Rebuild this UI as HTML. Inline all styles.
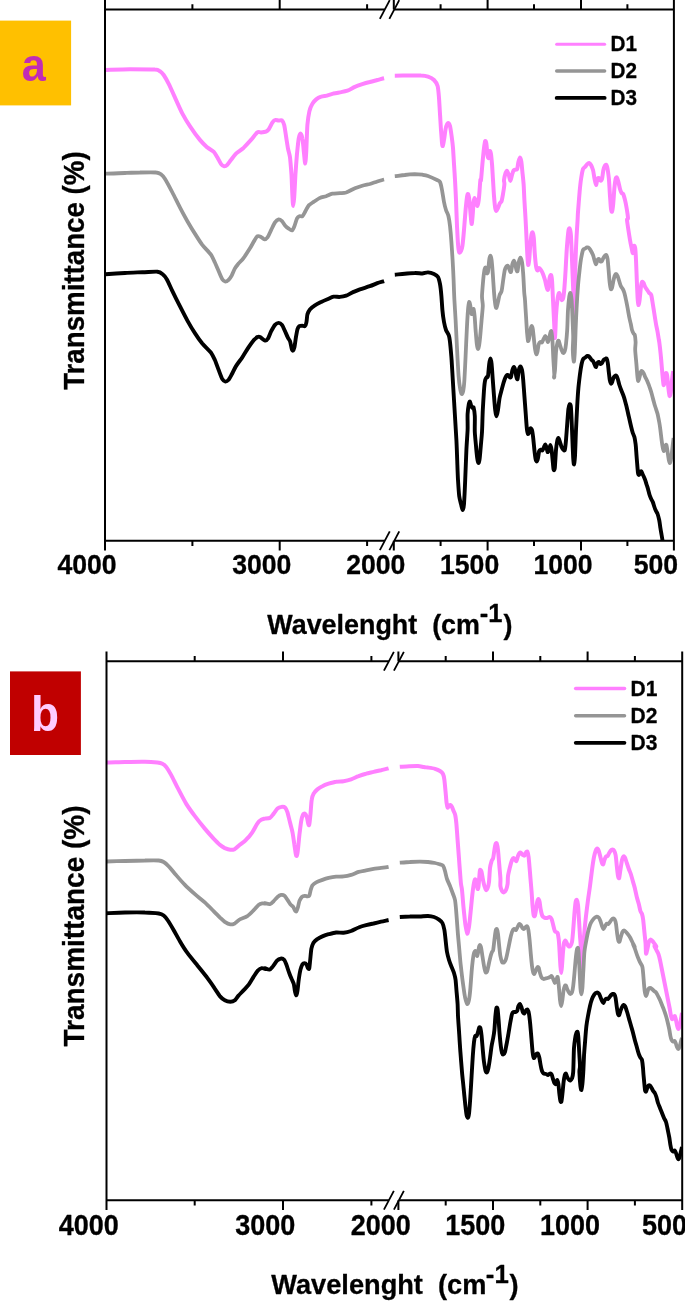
<!DOCTYPE html>
<html><head><meta charset="utf-8"><title>FTIR spectra</title>
<style>html,body{margin:0;padding:0;background:#fff}svg{display:block}</style></head>
<body>
<svg width="685" height="1301" viewBox="0 0 685 1301">
<rect width="685" height="1301" fill="#fff"/>
<clipPath id="ca"><rect x="105.0" y="9.5" width="568.9" height="531.2"/></clipPath>
<g clip-path="url(#ca)" fill="none" stroke-linejoin="round" stroke-linecap="butt">
<path d="M105.5,70.0 C108.8,69.9 123.4,69.3 130.0,69.2 C136.5,69.2 150.9,69.2 154.9,69.5 C158.9,69.7 158.7,70.5 159.9,71.2 C161.1,72.0 162.5,73.3 163.7,75.0 C164.8,76.6 167.1,80.7 168.6,83.7 C170.1,86.7 173.1,93.4 174.9,97.4 C176.7,101.4 180.4,109.8 182.4,113.7 C184.4,117.5 187.5,122.6 189.9,126.1 C192.2,129.6 197.5,137.0 199.9,139.9 C202.2,142.7 205.5,145.8 207.3,147.4 C209.2,148.9 212.2,150.3 213.6,151.6 C214.9,152.9 216.3,155.7 217.3,157.3 C218.3,159.0 220.2,162.9 221.1,164.1 C222.0,165.3 223.2,166.2 224.1,166.3 C224.9,166.4 226.4,165.7 227.3,164.8 C228.2,164.0 229.9,161.3 231.1,159.8 C232.2,158.3 234.4,155.2 236.0,153.6 C237.7,152.0 241.5,149.7 243.5,147.9 C245.5,146.0 249.2,141.9 251.0,139.9 C252.9,137.8 255.9,133.4 257.3,132.4 C258.6,131.4 259.8,132.5 261.0,132.4 C262.2,132.3 265.0,132.0 266.0,131.6 C267.0,131.2 267.9,130.6 268.7,129.4 C269.6,128.1 271.6,123.7 272.5,122.4 C273.4,121.1 274.6,120.1 275.5,119.9 C276.3,119.7 277.9,120.6 278.7,120.6 C279.6,120.7 281.2,119.8 282.0,120.4 C282.7,121.0 283.6,122.6 284.2,124.9 C284.8,127.2 285.7,134.2 286.2,137.4 C286.7,140.5 287.5,145.9 288.0,148.6 C288.5,151.3 289.5,153.8 290.0,157.3 C290.4,160.8 291.1,169.5 291.5,174.8 C291.8,180.1 292.2,193.1 292.5,197.3 C292.7,201.4 293.0,206.0 293.2,206.0 C293.4,206.0 293.9,201.4 294.2,197.3 C294.5,193.1 295.1,180.5 295.4,174.8 C295.8,169.2 296.5,159.7 296.9,154.8 C297.4,150.0 298.2,141.4 298.7,138.6 C299.2,135.8 299.9,133.6 300.4,133.6 C300.9,133.6 302.0,136.1 302.4,138.6 C302.9,141.1 303.6,149.0 303.9,152.3 C304.3,155.7 304.9,163.6 305.2,163.6 C305.5,163.6 305.9,157.5 306.2,152.3 C306.5,147.2 307.0,130.4 307.4,124.9 C307.9,119.4 308.8,114.0 309.4,111.2 C310.1,108.3 311.5,105.2 312.4,103.7 C313.3,102.1 315.0,100.4 316.2,99.4 C317.3,98.5 319.8,97.2 321.2,96.7 C322.5,96.2 324.7,96.0 326.2,95.7 C327.6,95.3 330.6,94.4 332.4,93.9 C334.2,93.5 337.9,92.9 339.9,92.4 C341.9,92.0 345.4,91.4 347.4,90.7 C349.4,90.0 352.9,87.8 354.9,86.9 C356.9,86.1 360.3,84.9 362.3,84.2 C364.3,83.5 367.8,82.5 369.8,82.0 C371.8,81.4 375.4,80.5 377.3,80.0 C379.2,79.5 383.2,78.4 384.1,78.2" stroke="#ff80ff" stroke-width="4.0"/>
<path d="M394.8,75.7 C396.8,75.7 406.3,75.5 409.8,75.5 C413.3,75.4 418.6,75.3 421.0,75.5 C423.4,75.6 426.3,76.0 428.0,76.6 C429.7,77.2 432.7,78.7 434.0,80.0 C435.3,81.3 436.9,83.6 437.6,86.0 C438.3,88.4 438.7,94.3 439.0,98.0 C439.3,101.7 439.7,109.7 440.0,114.0 C440.3,118.3 440.7,126.1 441.0,130.0 C441.3,133.9 441.8,140.9 442.0,143.0 C442.2,145.1 442.5,146.4 442.8,146.0 C443.1,145.6 443.6,142.3 444.0,140.0 C444.4,137.7 445.2,131.1 445.6,129.0 C446.0,126.9 446.6,125.2 447.0,124.4 C447.4,123.6 448.0,122.8 448.4,123.0 C448.8,123.2 449.6,124.3 450.0,126.0 C450.4,127.7 451.2,133.1 451.6,136.0 C452.0,138.9 452.7,144.3 453.0,148.0 C453.3,151.7 453.7,159.7 454.0,164.0 C454.3,168.3 454.7,175.2 455.0,180.0 C455.3,184.8 455.7,193.9 456.0,200.0 C456.3,206.1 456.7,220.1 457.0,226.0 C457.3,231.9 457.7,240.5 458.0,244.0 C458.3,247.5 458.8,251.5 459.2,252.4 C459.6,253.3 460.6,251.9 461.0,251.0 C461.4,250.1 462.0,248.8 462.4,246.0 C462.8,243.2 463.6,234.8 464.0,230.0 C464.4,225.2 465.2,214.4 465.6,210.0 C466.0,205.6 466.7,199.1 467.0,197.0 C467.3,194.9 467.7,193.7 468.0,194.0 C468.3,194.3 468.9,196.6 469.2,199.0 C469.5,201.4 470.1,208.7 470.4,212.0 C470.7,215.3 471.3,223.5 471.6,224.0 C471.9,224.5 472.3,218.9 472.6,216.0 C472.9,213.1 473.3,204.4 473.6,202.0 C473.9,199.6 474.3,198.0 474.6,198.0 C474.9,198.0 475.6,200.9 476.0,202.0 C476.4,203.1 477.1,206.1 477.4,206.0 C477.7,205.9 478.3,203.1 478.6,201.0 C478.9,198.9 479.4,192.8 479.6,190.0 C479.8,187.2 480.2,181.3 480.4,180.0 C480.6,178.7 480.7,182.1 481.0,180.0 C481.3,177.9 482.0,168.3 482.4,164.0 C482.8,159.7 483.6,151.1 484.0,148.0 C484.4,144.9 484.9,141.5 485.2,141.0 C485.5,140.5 486.1,142.0 486.4,144.0 C486.7,146.0 487.3,154.1 487.6,156.0 C487.9,157.9 488.5,158.7 488.8,158.0 C489.1,157.3 489.5,151.5 489.8,151.0 C490.1,150.5 490.7,152.3 491.0,154.0 C491.3,155.7 491.7,160.5 492.0,164.0 C492.3,167.5 492.7,175.7 493.0,180.0 C493.3,184.3 493.7,192.3 494.0,196.0 C494.3,199.7 494.9,206.0 495.2,208.0 C495.5,210.0 496.0,211.0 496.4,211.0 C496.8,211.0 497.5,209.1 498.0,208.0 C498.5,206.9 499.5,203.9 500.0,203.0 C500.5,202.1 501.2,202.2 501.6,201.0 C502.0,199.8 502.6,196.3 503.0,194.0 C503.4,191.7 504.3,185.9 504.4,184.0 C504.5,182.1 503.8,181.5 504.0,180.0 C504.2,178.5 505.2,174.2 505.6,173.0 C506.0,171.8 506.8,170.7 507.2,171.0 C507.6,171.3 508.4,173.7 508.8,175.0 C509.2,176.3 510.0,181.0 510.4,181.0 C510.8,181.0 511.6,176.4 512.0,175.0 C512.4,173.6 513.1,171.1 513.6,170.4 C514.1,169.7 515.1,169.8 515.6,169.6 C516.1,169.4 516.8,170.0 517.2,169.0 C517.6,168.0 518.0,163.5 518.4,162.0 C518.8,160.5 519.6,157.6 520.0,157.6 C520.4,157.6 521.1,160.1 521.4,162.0 C521.7,163.9 522.1,169.1 522.4,172.0 C522.7,174.9 523.3,180.3 523.6,184.0 C523.9,187.7 524.1,195.2 524.4,200.0 C524.7,204.8 525.3,214.7 525.6,220.0 C525.9,225.3 526.4,235.2 526.6,240.0 C526.8,244.8 527.2,252.7 527.4,256.0 C527.6,259.3 528.0,264.5 528.2,265.0 C528.4,265.5 528.9,262.5 529.2,260.0 C529.5,257.5 529.9,249.3 530.2,246.0 C530.5,242.7 531.1,236.8 531.4,235.0 C531.7,233.2 532.3,232.0 532.6,232.4 C532.9,232.8 533.5,235.1 533.8,238.0 C534.1,240.9 534.5,250.3 534.8,254.0 C535.1,257.7 535.7,263.8 536.0,266.0 C536.3,268.2 537.0,270.1 537.4,270.4 C537.8,270.7 538.5,268.1 539.0,268.0 C539.5,267.9 540.5,269.2 541.0,270.0 C541.5,270.8 542.5,272.7 543.0,274.0 C543.5,275.3 544.5,278.3 545.0,280.0 C545.5,281.7 546.2,285.7 546.6,287.0 C547.0,288.3 547.6,290.8 548.0,289.6 C548.4,288.4 549.2,279.9 549.6,278.0 C550.0,276.1 550.7,274.7 551.0,275.0 C551.3,275.3 551.7,276.7 552.0,280.0 C552.3,283.3 552.7,294.7 553.0,300.0 C553.3,305.3 553.7,314.9 554.0,320.0 C554.3,325.1 554.7,338.5 555.0,338.0 C555.3,337.5 555.7,321.1 556.0,316.0 C556.3,310.9 557.0,303.1 557.4,300.0 C557.8,296.9 558.6,293.5 559.0,293.0 C559.4,292.5 560.1,295.1 560.4,296.0 C560.7,296.9 561.2,299.7 561.6,300.0 C562.0,300.3 562.8,299.6 563.2,298.0 C563.6,296.4 564.1,291.7 564.4,288.0 C564.7,284.3 565.3,275.6 565.6,270.0 C565.9,264.4 566.6,251.2 567.0,246.0 C567.4,240.8 568.1,233.3 568.4,231.0 C568.7,228.7 569.3,228.0 569.6,228.4 C569.9,228.8 570.5,231.1 570.8,234.0 C571.1,236.9 571.4,245.2 571.6,250.0 C571.8,254.8 572.2,264.7 572.4,270.0 C572.6,275.3 573.0,284.1 573.2,290.0 C573.4,295.9 573.8,314.0 574.0,314.0 C574.2,314.0 574.6,297.2 574.8,290.0 C575.0,282.8 575.4,267.2 575.6,260.0 C575.8,252.8 576.3,241.3 576.6,236.0 C576.9,230.7 577.4,223.2 577.6,220.0 C577.8,216.8 577.7,215.7 578.0,212.0 C578.3,208.3 579.2,196.5 579.6,192.0 C580.0,187.5 580.7,181.1 581.2,178.0 C581.7,174.9 582.5,170.5 583.0,169.0 C583.5,167.5 584.5,167.6 585.0,167.0 C585.5,166.4 586.5,164.9 587.0,164.4 C587.5,163.9 588.5,162.9 589.0,163.0 C589.5,163.1 590.5,164.1 591.0,165.0 C591.5,165.9 592.5,168.3 593.0,170.0 C593.5,171.7 594.0,176.0 594.4,178.0 C594.8,180.0 595.6,184.9 596.0,185.0 C596.4,185.1 597.0,179.9 597.4,179.0 C597.8,178.1 598.6,177.8 599.0,178.0 C599.4,178.2 600.0,180.5 600.4,180.6 C600.8,180.7 601.6,180.4 602.0,179.0 C602.4,177.6 603.0,171.8 603.4,170.0 C603.8,168.2 604.6,166.3 605.0,165.6 C605.4,164.9 606.1,164.5 606.4,165.0 C606.7,165.5 607.3,167.0 607.6,169.0 C607.9,171.0 608.7,176.4 609.0,180.0 C609.3,183.6 609.7,192.1 610.0,196.0 C610.3,199.9 610.7,206.9 611.0,209.0 C611.3,211.1 611.7,212.3 612.0,211.6 C612.3,210.9 612.9,207.1 613.2,204.0 C613.5,200.9 614.1,191.3 614.4,188.0 C614.7,184.7 615.3,180.4 615.6,179.0 C615.9,177.6 616.6,177.2 617.0,177.6 C617.4,178.0 618.0,180.5 618.4,182.0 C618.8,183.5 619.6,187.5 620.0,189.0 C620.4,190.5 621.2,192.3 621.6,193.0 C622.0,193.7 622.7,193.1 623.2,194.0 C623.7,194.9 624.5,198.1 625.0,200.0 C625.5,201.9 626.2,205.6 626.6,208.0 C627.0,210.4 627.9,216.4 628.0,218.0 C628.1,219.6 626.9,218.4 627.0,220.0 C627.1,221.6 628.0,227.3 628.4,230.0 C628.8,232.7 629.6,237.6 630.0,240.0 C630.4,242.4 631.2,246.3 631.6,248.0 C632.0,249.7 632.5,253.3 632.8,253.0 C633.1,252.7 633.7,246.7 634.0,246.0 C634.3,245.3 634.9,246.1 635.2,248.0 C635.5,249.9 635.8,255.7 636.0,260.0 C636.2,264.3 636.6,274.9 636.8,280.0 C637.0,285.1 637.4,294.7 637.6,298.0 C637.8,301.3 638.1,304.7 638.4,305.0 C638.7,305.3 639.3,302.3 639.6,300.0 C639.9,297.7 640.5,290.4 640.8,288.0 C641.1,285.6 641.6,282.7 642.0,282.0 C642.4,281.3 643.2,282.3 643.6,283.0 C644.0,283.7 644.7,286.1 645.2,287.0 C645.7,287.9 646.7,289.2 647.2,290.0 C647.7,290.8 648.7,292.3 649.2,293.0 C649.7,293.7 650.7,293.5 651.2,295.0 C651.7,296.5 652.4,301.5 652.8,304.0 C653.2,306.5 654.0,311.3 654.4,314.0 C654.8,316.7 655.6,321.6 656.0,324.0 C656.4,326.4 657.2,329.6 657.6,332.0 C658.0,334.4 659.0,340.9 659.2,342.0 C659.4,343.1 658.9,339.2 659.0,340.0 C659.1,340.8 659.7,345.3 660.0,348.0 C660.3,350.7 660.9,356.5 661.2,360.0 C661.5,363.5 662.1,370.7 662.4,374.0 C662.7,377.3 663.3,384.2 663.6,385.0 C663.9,385.8 664.5,381.6 664.8,380.0 C665.1,378.4 665.7,373.5 666.0,373.0 C666.3,372.5 666.9,374.0 667.2,376.0 C667.5,378.0 668.1,385.3 668.4,388.0 C668.7,390.7 669.3,395.5 669.6,396.0 C669.9,396.5 670.5,394.1 670.8,392.0 C671.1,389.9 671.7,382.8 672.0,380.0 C672.3,377.2 673.0,372.2 673.2,371.0" stroke="#ff80ff" stroke-width="4.0"/>
<path d="M105.5,173.7 C108.1,173.6 120.4,173.1 125.0,173.0 C129.6,172.8 135.8,172.5 139.9,172.5 C144.1,172.4 153.3,172.2 156.2,172.5 C159.0,172.7 160.0,173.6 161.2,174.5 C162.3,175.3 163.4,176.3 164.9,178.7 C166.4,181.1 170.4,188.6 172.4,192.5 C174.4,196.3 177.9,203.6 179.9,207.4 C181.9,211.3 185.4,217.7 187.4,221.2 C189.4,224.7 192.9,230.5 194.9,233.6 C196.9,236.8 200.2,242.0 202.3,244.9 C204.5,247.7 209.4,252.5 211.1,254.9 C212.7,257.2 213.8,260.2 214.8,262.3 C215.8,264.5 217.6,268.8 218.6,271.1 C219.6,273.3 221.4,277.9 222.3,279.3 C223.2,280.7 224.5,281.5 225.3,281.6 C226.1,281.6 227.7,280.7 228.6,279.8 C229.4,279.0 231.0,276.8 231.8,275.3 C232.6,273.8 233.9,270.2 234.8,268.6 C235.7,267.0 237.4,265.0 238.5,263.6 C239.7,262.2 242.0,260.1 243.5,258.1 C245.0,256.1 248.3,251.0 249.8,248.6 C251.3,246.2 253.7,241.5 254.8,239.9 C255.8,238.2 256.9,236.5 257.8,236.1 C258.6,235.7 260.1,236.5 261.0,236.9 C261.9,237.3 263.6,239.3 264.5,239.4 C265.4,239.4 266.6,238.6 267.5,237.4 C268.4,236.1 270.2,231.9 271.2,229.9 C272.2,227.9 274.0,223.8 275.0,222.4 C276.0,221.0 277.8,219.6 278.7,219.4 C279.7,219.2 281.1,220.4 282.0,221.2 C282.8,222.0 284.1,224.4 285.0,225.4 C285.9,226.4 287.8,228.0 288.7,228.6 C289.6,229.3 291.2,230.7 292.0,230.4 C292.7,230.1 293.8,227.7 294.4,226.2 C295.1,224.6 296.3,220.0 296.9,218.7 C297.6,217.3 298.7,216.5 299.4,216.2 C300.2,215.8 301.6,216.8 302.4,216.2 C303.2,215.5 304.6,212.6 305.4,211.2 C306.3,209.7 307.6,206.7 308.7,205.4 C309.8,204.2 312.2,202.9 313.7,201.9 C315.2,200.9 318.2,198.7 319.9,197.9 C321.6,197.2 324.5,196.8 326.2,196.2 C327.8,195.6 330.6,194.1 332.4,193.7 C334.2,193.3 338.0,193.4 339.9,193.2 C341.7,193.0 344.1,193.1 346.1,192.5 C348.1,191.8 352.7,189.1 354.9,188.2 C357.0,187.3 360.3,186.3 362.3,185.7 C364.3,185.1 367.8,184.5 369.8,184.0 C371.8,183.4 375.4,182.1 377.3,181.5 C379.2,180.9 383.2,179.7 384.1,179.5" stroke="#959595" stroke-width="3.8"/>
<path d="M394.8,176.2 C396.1,176.1 402.1,175.2 404.8,175.0 C407.4,174.7 412.4,174.3 414.8,174.2 C417.1,174.2 420.5,174.5 422.3,174.7 C424.0,175.0 426.0,175.3 428.0,176.0 C430.0,176.7 435.4,179.2 437.0,180.0 C438.6,180.8 439.3,180.7 440.0,182.0 C440.7,183.3 441.5,187.3 442.0,190.0 C442.5,192.7 443.5,199.3 444.0,202.0 C444.5,204.7 445.4,208.1 446.0,210.0 C446.6,211.9 447.9,213.9 448.4,216.0 C448.9,218.1 449.6,222.5 450.0,226.0 C450.4,229.5 451.1,237.5 451.4,242.0 C451.7,246.5 452.3,254.9 452.6,260.0 C452.9,265.1 453.4,274.7 453.6,280.0 C453.8,285.3 454.1,294.7 454.4,300.0 C454.7,305.3 455.3,314.7 455.6,320.0 C455.9,325.3 456.3,334.7 456.6,340.0 C456.9,345.3 457.3,355.2 457.6,360.0 C457.9,364.8 458.3,372.3 458.6,376.0 C458.9,379.7 459.6,385.6 460.0,388.0 C460.4,390.4 461.2,393.6 461.6,394.0 C462.0,394.4 462.8,392.9 463.2,391.0 C463.6,389.1 464.1,384.7 464.4,380.0 C464.7,375.3 465.3,362.7 465.6,356.0 C465.9,349.3 466.5,336.1 466.8,330.0 C467.1,323.9 467.7,313.7 468.0,310.0 C468.3,306.3 468.9,302.5 469.2,302.0 C469.5,301.5 470.1,304.4 470.4,306.0 C470.7,307.6 471.3,313.2 471.6,314.0 C471.9,314.8 472.5,312.7 472.8,312.0 C473.1,311.3 473.4,308.5 473.6,309.0 C473.8,309.5 474.3,313.2 474.6,316.0 C474.9,318.8 475.3,326.3 475.6,330.0 C475.9,333.7 476.5,341.5 476.8,344.0 C477.1,346.5 477.7,348.9 478.0,349.0 C478.3,349.1 478.9,347.0 479.2,345.0 C479.5,343.0 480.1,337.3 480.4,334.0 C480.7,330.7 481.3,323.7 481.6,320.0 C481.9,316.3 482.7,309.2 482.8,306.0 C482.9,302.8 481.9,299.5 482.0,296.0 C482.1,292.5 482.9,283.5 483.2,280.0 C483.5,276.5 484.1,271.7 484.4,270.0 C484.7,268.3 485.3,267.2 485.6,267.6 C485.9,268.0 486.5,272.4 486.8,273.0 C487.1,273.6 487.7,273.7 488.0,272.0 C488.3,270.3 488.9,262.2 489.2,260.0 C489.5,257.8 490.1,255.6 490.4,255.6 C490.7,255.6 491.3,257.5 491.6,260.0 C491.9,262.5 492.5,269.7 492.8,274.0 C493.1,278.3 493.7,288.0 494.0,292.0 C494.3,296.0 494.9,301.9 495.2,304.0 C495.5,306.1 496.0,308.3 496.4,308.0 C496.8,307.7 497.6,303.7 498.0,302.0 C498.4,300.3 499.1,296.5 499.6,295.0 C500.1,293.5 501.1,293.0 501.6,291.0 C502.1,289.0 502.8,282.8 503.2,280.0 C503.6,277.2 504.4,271.8 504.8,270.0 C505.2,268.2 506.0,266.9 506.4,266.4 C506.8,265.9 507.6,265.5 508.0,266.0 C508.4,266.5 509.2,269.2 509.6,270.0 C510.0,270.8 510.6,272.8 511.0,272.0 C511.4,271.2 512.0,265.5 512.4,264.0 C512.8,262.5 513.6,260.6 514.0,260.6 C514.4,260.6 514.9,262.7 515.2,264.0 C515.5,265.3 516.1,269.1 516.4,270.0 C516.7,270.9 517.3,272.1 517.6,271.0 C517.9,269.9 518.4,263.8 518.8,262.0 C519.2,260.2 520.0,257.6 520.4,257.6 C520.8,257.6 521.6,259.8 522.0,262.0 C522.4,264.2 522.9,270.0 523.2,274.0 C523.5,278.0 524.0,288.5 524.2,292.0 C524.4,295.5 524.8,296.8 525.0,300.0 C525.2,303.2 525.7,311.7 526.0,316.0 C526.3,320.3 526.7,328.7 527.0,332.0 C527.3,335.3 527.7,340.2 528.0,341.0 C528.3,341.8 528.9,339.5 529.2,338.0 C529.5,336.5 530.1,331.6 530.4,330.0 C530.7,328.4 531.3,326.1 531.6,326.0 C531.9,325.9 532.5,327.1 532.8,329.0 C533.1,330.9 533.7,337.2 534.0,340.0 C534.3,342.8 534.9,348.1 535.2,350.0 C535.5,351.9 536.1,354.3 536.4,354.4 C536.7,354.5 537.3,352.4 537.6,351.0 C537.9,349.6 538.4,345.2 538.8,344.0 C539.2,342.8 540.0,342.2 540.4,342.0 C540.8,341.8 541.6,342.8 542.0,342.4 C542.4,342.0 543.2,339.9 543.6,339.0 C544.0,338.1 544.8,336.0 545.2,336.0 C545.6,336.0 546.4,338.2 546.8,339.0 C547.2,339.8 547.6,342.4 548.0,342.0 C548.4,341.6 549.2,337.5 549.6,336.0 C550.0,334.5 550.8,330.5 551.2,331.0 C551.6,331.5 552.1,336.1 552.4,340.0 C552.7,343.9 553.1,355.2 553.4,360.0 C553.7,364.8 554.3,373.7 554.4,376.0 C554.5,378.3 553.9,377.8 554.0,377.0 C554.1,376.2 554.7,373.3 555.0,370.0 C555.3,366.7 555.7,355.7 556.0,352.0 C556.3,348.3 557.2,343.5 557.6,342.0 C558.0,340.5 558.5,340.6 558.8,341.0 C559.1,341.4 559.6,343.8 560.0,345.0 C560.4,346.2 561.2,348.9 561.6,350.0 C562.0,351.1 562.8,352.9 563.2,353.0 C563.6,353.1 564.4,352.2 564.8,351.0 C565.2,349.8 565.7,346.8 566.0,344.0 C566.3,341.2 566.9,334.5 567.2,330.0 C567.5,325.5 567.7,314.4 568.0,310.0 C568.3,305.6 568.9,299.3 569.2,297.0 C569.5,294.7 570.1,292.6 570.4,293.0 C570.7,293.4 571.3,296.9 571.6,300.0 C571.9,303.1 572.2,311.2 572.4,316.0 C572.6,320.8 573.1,331.5 573.2,336.0 C573.3,340.5 572.7,346.6 572.8,350.0 C572.9,353.4 573.5,361.3 573.8,361.6 C574.1,361.9 574.6,356.2 574.8,352.0 C575.0,347.8 575.4,335.9 575.6,330.0 C575.8,324.1 576.3,313.9 576.6,308.0 C576.9,302.1 577.6,291.1 578.0,286.0 C578.4,280.9 579.2,273.7 579.6,270.0 C580.0,266.3 580.7,260.7 581.2,258.0 C581.7,255.3 582.5,251.3 583.0,250.0 C583.5,248.7 584.5,248.9 585.0,248.6 C585.5,248.3 586.5,247.5 587.0,247.4 C587.5,247.3 588.5,247.5 589.0,248.0 C589.5,248.5 590.5,250.1 591.0,251.0 C591.5,251.9 592.5,253.8 593.0,255.0 C593.5,256.2 594.0,258.7 594.4,260.0 C594.8,261.3 595.6,264.4 596.0,264.4 C596.4,264.4 597.0,260.7 597.4,260.0 C597.8,259.3 598.6,258.8 599.0,259.0 C599.4,259.2 600.0,261.1 600.4,261.4 C600.8,261.7 601.6,261.5 602.0,261.0 C602.4,260.5 603.0,258.7 603.4,258.0 C603.8,257.3 604.6,256.0 605.0,255.6 C605.4,255.2 606.1,254.7 606.4,255.2 C606.7,255.7 607.3,257.0 607.6,259.0 C607.9,261.0 608.3,266.9 608.6,270.0 C608.9,273.1 609.3,279.5 609.6,282.0 C609.9,284.5 610.5,288.2 610.8,289.0 C611.1,289.8 611.7,288.9 612.0,288.0 C612.3,287.1 612.9,283.6 613.2,282.0 C613.5,280.4 614.2,277.1 614.6,276.0 C615.0,274.9 615.6,274.0 616.0,274.0 C616.4,274.0 617.2,275.1 617.6,276.0 C618.0,276.9 618.8,279.7 619.2,281.0 C619.6,282.3 620.3,284.9 620.8,286.0 C621.3,287.1 622.3,288.1 622.8,289.0 C623.3,289.9 624.0,291.5 624.4,293.0 C624.8,294.5 625.6,298.0 626.0,300.0 C626.4,302.0 627.2,305.7 627.6,308.0 C628.0,310.3 628.8,314.9 629.2,317.0 C629.6,319.1 630.4,322.3 630.8,324.0 C631.2,325.7 631.6,328.7 632.0,330.0 C632.4,331.3 633.2,332.9 633.6,333.6 C634.0,334.3 634.5,333.9 634.8,335.0 C635.1,336.1 635.5,340.0 635.6,342.0 C635.7,344.0 635.1,347.1 635.2,350.0 C635.3,352.9 636.1,360.3 636.4,364.0 C636.7,367.7 637.3,375.7 637.6,378.0 C637.9,380.3 638.1,381.1 638.4,381.0 C638.7,380.9 639.3,378.2 639.6,377.0 C639.9,375.8 640.5,372.8 640.8,372.0 C641.1,371.2 641.6,370.9 642.0,371.0 C642.4,371.1 643.2,372.2 643.6,373.0 C644.0,373.8 644.7,375.9 645.2,377.0 C645.7,378.1 646.7,379.8 647.2,381.0 C647.7,382.2 648.7,384.5 649.2,386.0 C649.7,387.5 650.7,390.4 651.2,392.0 C651.7,393.6 652.4,396.4 652.8,398.0 C653.2,399.6 654.0,402.5 654.4,404.0 C654.8,405.5 655.6,407.7 656.0,409.0 C656.4,410.3 657.2,412.3 657.6,414.0 C658.0,415.7 658.8,419.9 659.2,422.0 C659.6,424.1 660.1,427.6 660.4,430.0 C660.7,432.4 661.3,437.6 661.6,440.0 C661.9,442.4 662.5,446.5 662.8,448.0 C663.1,449.5 663.7,451.3 664.0,451.0 C664.3,450.7 664.9,446.8 665.2,446.0 C665.5,445.2 666.1,444.2 666.4,445.0 C666.7,445.8 667.3,450.0 667.6,452.0 C667.9,454.0 668.5,458.5 668.8,460.0 C669.1,461.5 669.7,463.3 670.0,463.0 C670.3,462.7 670.9,460.0 671.2,458.0 C671.5,456.0 672.1,450.7 672.4,448.0 C672.7,445.3 673.4,439.3 673.6,438.0" stroke="#959595" stroke-width="3.8"/>
<path d="M105.5,274.2 C108.1,274.0 120.0,273.2 125.0,273.0 C129.9,272.7 138.1,272.4 142.4,272.2 C146.8,272.1 154.8,271.5 157.4,271.7 C160.1,272.0 161.1,272.9 162.4,274.0 C163.7,275.0 165.6,277.2 166.9,279.5 C168.2,281.8 170.7,287.6 172.4,291.2 C174.1,294.7 177.9,302.2 179.9,306.2 C181.9,310.1 185.4,317.0 187.4,320.6 C189.4,324.2 192.9,330.1 194.9,333.1 C196.9,336.2 200.2,341.0 202.3,343.6 C204.5,346.2 209.4,350.7 211.1,352.8 C212.7,355.0 213.8,357.6 214.8,359.8 C215.8,362.1 217.6,367.3 218.6,369.8 C219.6,372.4 221.4,377.5 222.3,379.1 C223.2,380.6 224.5,381.5 225.3,381.6 C226.1,381.7 227.7,380.8 228.6,379.8 C229.4,378.8 230.8,376.1 231.8,374.3 C232.8,372.5 234.6,368.3 236.0,366.1 C237.4,363.8 240.6,359.8 242.3,357.3 C244.0,354.8 247.0,349.6 248.5,347.4 C250.0,345.1 252.3,341.8 253.5,340.4 C254.8,339.0 256.9,337.3 257.8,336.9 C258.6,336.4 259.0,336.4 260.0,336.9 C261.0,337.4 263.9,340.4 265.0,340.6 C266.1,340.8 267.2,339.9 268.0,338.6 C268.8,337.4 270.3,333.0 271.2,331.1 C272.2,329.3 274.0,326.0 275.0,324.9 C276.0,323.8 277.8,322.9 278.7,322.9 C279.7,322.9 281.1,323.8 282.0,324.9 C282.8,326.0 284.2,329.4 285.0,331.1 C285.8,332.9 287.3,336.5 288.0,337.9 C288.6,339.2 289.5,339.7 290.0,341.1 C290.5,342.5 291.3,347.3 291.7,348.6 C292.1,349.9 292.6,350.8 293.0,350.6 C293.3,350.4 294.0,349.1 294.4,347.4 C294.8,345.6 295.5,339.8 295.9,337.4 C296.3,335.0 297.0,330.9 297.4,329.4 C297.9,327.9 298.8,326.6 299.4,326.1 C300.1,325.6 301.7,325.6 302.4,325.6 C303.2,325.6 304.4,326.6 304.9,326.1 C305.5,325.7 306.1,324.0 306.4,322.4 C306.8,320.8 307.0,316.1 307.4,314.4 C307.9,312.7 308.9,310.6 309.9,309.4 C310.9,308.2 313.4,306.4 314.9,305.4 C316.4,304.4 319.5,302.8 321.2,301.9 C322.8,301.1 325.7,299.9 327.4,299.2 C329.1,298.5 332.0,297.0 333.6,296.7 C335.3,296.4 338.2,297.1 339.9,296.9 C341.5,296.8 344.5,296.3 346.1,295.7 C347.8,295.1 350.5,293.3 352.4,292.4 C354.2,291.6 357.5,290.3 359.9,289.4 C362.2,288.6 367.5,287.0 369.8,286.2 C372.2,285.4 375.4,283.9 377.3,283.2 C379.2,282.5 383.2,281.5 384.1,281.2" stroke="#000000" stroke-width="3.9"/>
<path d="M394.8,274.7 C396.1,274.6 402.1,273.9 404.8,273.7 C407.4,273.5 412.4,273.0 414.8,273.0 C417.1,272.9 420.5,273.5 422.3,273.5 C424.0,273.4 426.4,272.3 428.0,272.4 C429.6,272.5 432.7,273.4 434.0,274.0 C435.3,274.6 437.2,275.7 438.0,277.0 C438.8,278.3 439.5,281.5 440.0,284.0 C440.5,286.5 441.1,292.5 441.4,296.0 C441.7,299.5 442.1,306.5 442.4,310.0 C442.7,313.5 443.5,319.3 444.0,322.0 C444.5,324.7 445.3,328.1 446.0,330.0 C446.7,331.9 448.4,333.9 449.0,336.0 C449.6,338.1 450.1,342.8 450.4,346.0 C450.7,349.2 451.3,355.5 451.6,360.0 C451.9,364.5 452.5,374.7 452.8,380.0 C453.1,385.3 453.7,394.7 454.0,400.0 C454.3,405.3 454.9,414.7 455.2,420.0 C455.5,425.3 456.1,434.7 456.4,440.0 C456.7,445.3 457.0,454.7 457.2,460.0 C457.4,465.3 457.7,475.2 458.0,480.0 C458.3,484.8 458.8,492.8 459.2,496.0 C459.6,499.2 460.5,502.1 461.0,504.0 C461.5,505.9 462.2,510.0 462.6,510.0 C463.0,510.0 463.7,508.0 464.0,504.0 C464.3,500.0 464.9,487.2 465.2,480.0 C465.5,472.8 466.1,456.7 466.4,450.0 C466.7,443.3 467.4,434.8 467.6,430.0 C467.8,425.2 467.4,417.5 467.6,414.0 C467.8,410.5 468.5,405.7 468.8,404.0 C469.1,402.3 469.7,401.3 470.0,401.6 C470.3,401.9 470.9,405.1 471.2,406.0 C471.5,406.9 472.1,407.8 472.4,408.0 C472.7,408.2 473.3,406.5 473.6,407.6 C473.9,408.7 474.6,412.7 474.8,416.0 C475.0,419.3 474.6,428.0 474.8,432.0 C475.0,436.0 475.7,442.5 476.0,446.0 C476.3,449.5 476.9,455.7 477.2,458.0 C477.5,460.3 478.1,462.9 478.4,463.0 C478.7,463.1 479.3,461.3 479.6,459.0 C479.9,456.7 480.5,449.6 480.8,446.0 C481.1,442.4 481.7,436.8 482.0,432.0 C482.3,427.2 482.5,415.6 482.8,410.0 C483.1,404.4 483.7,394.0 484.0,390.0 C484.3,386.0 484.8,381.7 485.2,380.0 C485.6,378.3 486.4,377.5 486.8,377.0 C487.2,376.5 487.7,377.7 488.0,376.0 C488.3,374.3 488.9,366.3 489.2,364.0 C489.5,361.7 490.1,358.4 490.4,358.4 C490.7,358.4 491.3,361.1 491.6,364.0 C491.9,366.9 492.5,375.7 492.8,380.0 C493.1,384.3 493.7,392.0 494.0,396.0 C494.3,400.0 494.9,407.3 495.2,410.0 C495.5,412.7 496.0,416.4 496.4,416.4 C496.8,416.4 497.6,412.5 498.0,410.0 C498.4,407.5 499.1,400.7 499.6,398.0 C500.1,395.3 501.1,391.9 501.6,390.0 C502.1,388.1 502.8,385.5 503.2,384.0 C503.6,382.5 504.4,380.1 504.8,379.0 C505.2,377.9 506.0,376.1 506.4,375.6 C506.8,375.1 507.6,374.8 508.0,375.0 C508.4,375.2 509.2,376.7 509.6,377.0 C510.0,377.3 510.6,377.9 511.0,377.0 C511.4,376.1 512.0,371.3 512.4,370.0 C512.8,368.7 513.6,367.0 514.0,367.0 C514.4,367.0 514.9,368.7 515.2,370.0 C515.5,371.3 516.1,375.8 516.4,377.0 C516.7,378.2 517.3,379.9 517.6,379.0 C517.9,378.1 518.4,371.7 518.8,370.0 C519.2,368.3 520.0,366.4 520.4,366.4 C520.8,366.4 521.6,368.2 522.0,370.0 C522.4,371.8 522.9,376.5 523.2,380.0 C523.5,383.5 524.1,391.7 524.4,396.0 C524.7,400.3 525.3,407.7 525.6,412.0 C525.9,416.3 526.5,425.1 526.8,428.0 C527.1,430.9 527.7,433.5 528.0,434.0 C528.3,434.5 528.9,432.7 529.2,432.0 C529.5,431.3 530.0,428.7 530.4,428.4 C530.8,428.1 531.6,428.7 532.0,430.0 C532.4,431.3 532.9,435.3 533.2,438.0 C533.5,440.7 534.1,447.2 534.4,450.0 C534.7,452.8 535.3,457.5 535.6,459.0 C535.9,460.5 536.5,461.5 536.8,461.4 C537.1,461.3 537.7,459.4 538.0,458.0 C538.3,456.6 538.8,452.1 539.2,451.0 C539.6,449.9 540.4,449.7 540.8,449.6 C541.2,449.5 542.0,450.7 542.4,450.4 C542.8,450.1 543.6,447.8 544.0,447.0 C544.4,446.2 544.9,444.4 545.2,444.4 C545.5,444.4 546.1,446.0 546.4,447.0 C546.7,448.0 547.3,451.6 547.6,452.0 C547.9,452.4 548.6,450.9 549.0,450.0 C549.4,449.1 550.1,445.0 550.4,445.0 C550.7,445.0 551.3,448.0 551.6,450.0 C551.9,452.0 552.3,457.4 552.6,460.0 C552.9,462.6 553.3,468.5 553.6,469.6 C553.9,470.7 554.5,470.6 554.8,468.0 C555.1,465.4 555.7,453.6 556.0,450.0 C556.3,446.4 556.9,442.6 557.2,441.0 C557.5,439.4 558.0,437.9 558.4,438.0 C558.8,438.1 559.6,440.8 560.0,442.0 C560.4,443.2 561.2,446.0 561.6,447.0 C562.0,448.0 562.8,449.2 563.2,449.6 C563.6,450.0 564.4,451.3 564.8,450.0 C565.2,448.7 565.7,443.5 566.0,440.0 C566.3,436.5 566.9,428.1 567.2,424.0 C567.5,419.9 568.1,411.6 568.4,409.0 C568.7,406.4 569.3,404.8 569.6,404.4 C569.9,404.0 570.5,403.9 570.8,406.0 C571.1,408.1 571.4,415.5 571.6,420.0 C571.8,424.5 572.2,434.9 572.4,440.0 C572.6,445.1 573.0,454.7 573.2,458.0 C573.4,461.3 573.8,464.7 574.0,464.4 C574.2,464.1 574.7,460.6 575.0,456.0 C575.3,451.4 575.7,436.7 576.0,430.0 C576.3,423.3 576.9,411.6 577.2,406.0 C577.5,400.4 578.0,392.3 578.4,388.0 C578.8,383.7 579.6,377.2 580.0,374.0 C580.4,370.8 581.2,366.0 581.6,364.0 C582.0,362.0 582.7,359.9 583.2,359.0 C583.7,358.1 584.7,358.0 585.2,357.6 C585.7,357.2 586.7,356.1 587.2,356.0 C587.7,355.9 588.7,356.1 589.2,356.6 C589.7,357.1 590.7,358.8 591.2,359.4 C591.7,360.0 592.7,360.7 593.2,361.4 C593.7,362.1 594.4,364.3 594.8,365.0 C595.2,365.7 595.7,367.3 596.0,367.0 C596.3,366.7 597.0,363.7 597.4,363.0 C597.8,362.3 598.6,361.9 599.0,362.0 C599.4,362.1 600.0,363.9 600.4,364.0 C600.8,364.1 601.6,363.5 602.0,363.0 C602.4,362.5 603.2,360.5 603.6,360.0 C604.0,359.5 604.8,359.2 605.2,359.0 C605.6,358.8 606.3,358.1 606.6,358.6 C606.9,359.1 607.5,361.2 607.8,363.0 C608.1,364.8 608.5,369.7 608.8,372.0 C609.1,374.3 609.5,378.5 609.8,380.0 C610.1,381.5 610.7,383.3 611.0,383.6 C611.3,383.9 611.9,382.7 612.2,382.0 C612.5,381.3 613.1,378.8 613.4,378.0 C613.7,377.2 614.4,376.3 614.8,376.0 C615.2,375.7 615.8,375.2 616.2,375.6 C616.6,376.0 617.4,377.7 617.8,379.0 C618.2,380.3 618.9,383.5 619.4,385.0 C619.9,386.5 620.7,388.7 621.2,390.0 C621.7,391.3 622.7,393.7 623.2,395.0 C623.7,396.3 624.4,398.5 624.8,400.0 C625.2,401.5 626.0,404.3 626.4,406.0 C626.8,407.7 627.6,411.1 628.0,413.0 C628.4,414.9 629.2,418.1 629.6,420.0 C630.0,421.9 630.8,425.3 631.2,427.0 C631.6,428.7 632.4,431.7 632.8,433.0 C633.2,434.3 634.0,435.5 634.4,437.0 C634.8,438.5 635.3,441.7 635.6,444.0 C635.9,446.3 636.2,451.3 636.4,454.0 C636.6,456.7 637.0,461.5 637.2,464.0 C637.4,466.5 637.8,471.5 638.0,473.0 C638.2,474.5 638.7,475.1 639.0,475.0 C639.3,474.9 639.9,472.5 640.2,472.0 C640.5,471.5 641.0,471.0 641.4,471.4 C641.8,471.8 642.5,474.0 643.0,475.0 C643.5,476.0 644.3,477.8 644.8,479.0 C645.3,480.2 646.0,482.7 646.4,484.0 C646.8,485.3 647.6,487.5 648.0,489.0 C648.4,490.5 649.2,493.7 649.6,495.0 C650.0,496.3 650.8,498.1 651.2,499.0 C651.6,499.9 652.4,500.9 652.8,502.0 C653.2,503.1 654.0,505.8 654.4,507.0 C654.8,508.2 655.6,510.1 656.0,511.0 C656.4,511.9 657.2,512.8 657.6,514.0 C658.0,515.2 658.8,518.1 659.2,520.0 C659.6,521.9 660.1,526.0 660.4,528.0 C660.7,530.0 661.3,533.3 661.6,535.0 C661.9,536.7 662.5,540.2 662.6,541.0" stroke="#000000" stroke-width="3.9"/>
</g>
<g stroke="#000" stroke-width="2.0" fill="none" stroke-linecap="butt">
<path d="M105.0,-0.1999999999999993 V550.4000000000001"/>
<path d="M673.9,-0.1999999999999993 V550.4000000000001"/>
<path d="M105.0,9.5 H384.8 M394.3,9.5 H673.9"/>
<path d="M105.0,540.7 H384.8 M394.3,540.7 H673.9"/>
<path d="M279.7,-0.1999999999999993 V9.5 M279.7,540.7 V550.4000000000001"/>
<path d="M393.8,-0.1999999999999993 V9.5 M393.8,540.7 V550.4000000000001"/>
<path d="M487.6,-0.1999999999999993 V9.5 M487.6,540.7 V550.4000000000001"/>
<path d="M581.0,-0.1999999999999993 V9.5 M581.0,540.7 V550.4000000000001"/>
<path d="M192.4,4.3 V9.5 M192.4,540.7 V545.9000000000001"/>
<path d="M367.1,4.3 V9.5 M367.1,540.7 V545.9000000000001"/>
<path d="M440.6,4.3 V9.5 M440.6,540.7 V545.9000000000001"/>
<path d="M534.0,4.3 V9.5 M534.0,540.7 V545.9000000000001"/>
<path d="M627.4,4.3 V9.5 M627.4,540.7 V545.9000000000001"/>
</g>
<g stroke="#000" stroke-width="1.8" fill="none">
<path d="M379.85,18.85 L389.75,0.15000000000000036"/>
<path d="M389.35,18.85 L399.25,0.15000000000000036"/>
<path d="M379.85,550.0500000000001 L389.75,531.35"/>
<path d="M389.35,550.0500000000001 L399.25,531.35"/>
</g>
<text transform="translate(87.0,574.3) scale(1,1.06)" font-family="'Liberation Sans', Arial, sans-serif" font-weight="bold" stroke="#000" stroke-width="0.3" stroke-linejoin="round" font-size="26.6" text-anchor="middle">4000</text>
<text transform="translate(261.7,574.3) scale(1,1.06)" font-family="'Liberation Sans', Arial, sans-serif" font-weight="bold" stroke="#000" stroke-width="0.3" stroke-linejoin="round" font-size="26.6" text-anchor="middle">3000</text>
<text transform="translate(375.8,574.3) scale(1,1.06)" font-family="'Liberation Sans', Arial, sans-serif" font-weight="bold" stroke="#000" stroke-width="0.3" stroke-linejoin="round" font-size="26.6" text-anchor="middle">2000</text>
<text transform="translate(469.6,574.3) scale(1,1.06)" font-family="'Liberation Sans', Arial, sans-serif" font-weight="bold" stroke="#000" stroke-width="0.3" stroke-linejoin="round" font-size="26.6" text-anchor="middle">1500</text>
<text transform="translate(563.0,574.3) scale(1,1.06)" font-family="'Liberation Sans', Arial, sans-serif" font-weight="bold" stroke="#000" stroke-width="0.3" stroke-linejoin="round" font-size="26.6" text-anchor="middle">1000</text>
<text transform="translate(655.9,574.3) scale(1,1.06)" font-family="'Liberation Sans', Arial, sans-serif" font-weight="bold" stroke="#000" stroke-width="0.3" stroke-linejoin="round" font-size="26.6" text-anchor="middle">500</text>
<path d="M556.7,44.2 H604.6" stroke="#ff80ff" stroke-width="3.1" stroke-linecap="round" fill="none"/>
<text transform="translate(610.5,51.4) scale(1,1.05)" font-family="'Liberation Sans', Arial, sans-serif" font-weight="bold" stroke="#000" stroke-width="0.3" stroke-linejoin="round" font-size="20.7">D1</text>
<path d="M556.7,70.9 H604.6" stroke="#959595" stroke-width="3.5" stroke-linecap="round" fill="none"/>
<text transform="translate(610.5,78.2) scale(1,1.05)" font-family="'Liberation Sans', Arial, sans-serif" font-weight="bold" stroke="#000" stroke-width="0.3" stroke-linejoin="round" font-size="20.7">D2</text>
<path d="M556.7,97.9 H604.6" stroke="#000000" stroke-width="3.9" stroke-linecap="round" fill="none"/>
<text transform="translate(610.5,105.0) scale(1,1.05)" font-family="'Liberation Sans', Arial, sans-serif" font-weight="bold" stroke="#000" stroke-width="0.3" stroke-linejoin="round" font-size="20.7">D3</text>
<text transform="translate(83.5,270.6) rotate(-90) scale(1,1.05)" font-family="'Liberation Sans', Arial, sans-serif" font-weight="bold" stroke="#000" stroke-width="0.3" stroke-linejoin="round" font-size="27.7" text-anchor="middle">Transmittance (%)</text>
<text transform="translate(267.3,634.0) scale(1,1.03)" font-family="'Liberation Sans', Arial, sans-serif" font-weight="bold" stroke="#000" stroke-width="0.3" stroke-linejoin="round" font-size="26.9" xml:space="preserve" style="white-space:pre">Wavelenght  (cm</text>
<text transform="translate(479.8,622.3) scale(1,1.03)" font-family="'Liberation Sans', Arial, sans-serif" font-weight="bold" stroke="#000" stroke-width="0.3" stroke-linejoin="round" font-size="25.5">-1</text>
<text transform="translate(503.6,634.0) scale(1,1.03)" font-family="'Liberation Sans', Arial, sans-serif" font-weight="bold" stroke="#000" stroke-width="0.3" stroke-linejoin="round" font-size="26.9">)</text>
<clipPath id="cb"><rect x="106.5" y="661.2" width="575.7" height="539.0999999999999"/></clipPath>
<g clip-path="url(#cb)" fill="none" stroke-linejoin="round" stroke-linecap="butt">
<path d="M106.5,762.4 C109.0,762.4 119.8,762.0 125.0,761.9 C130.1,761.8 140.6,761.6 144.9,761.7 C149.3,761.8 155.1,762.2 157.4,762.4 C159.7,762.7 161.2,763.1 162.4,763.7 C163.6,764.3 165.0,765.4 166.2,766.9 C167.3,768.4 169.6,772.2 171.1,774.9 C172.6,777.6 175.4,783.6 177.4,787.4 C179.4,791.2 183.8,799.8 186.1,803.6 C188.5,807.5 192.4,812.8 194.9,816.1 C197.4,819.4 202.3,825.6 204.8,828.6 C207.3,831.6 211.6,836.4 213.6,838.6 C215.6,840.7 218.3,843.5 219.8,844.8 C221.3,846.1 223.4,847.4 224.8,848.1 C226.2,848.7 229.0,849.7 230.3,849.8 C231.6,849.9 233.5,849.7 234.8,849.1 C236.1,848.4 238.3,846.0 239.8,844.8 C241.3,843.6 244.4,841.5 246.0,839.8 C247.7,838.2 250.8,834.5 252.3,832.3 C253.8,830.2 256.1,825.3 257.3,823.6 C258.4,821.9 260.0,820.5 261.0,819.9 C262.0,819.2 264.2,818.8 264.8,818.6 C265.3,818.4 264.3,818.7 265.0,818.6 C265.7,818.5 268.8,818.5 270.0,817.9 C271.1,817.2 272.7,814.8 273.7,813.6 C274.7,812.4 276.5,809.5 277.5,808.6 C278.5,807.7 280.2,807.0 281.2,806.9 C282.2,806.7 284.1,806.6 285.0,807.4 C285.8,808.1 286.8,810.4 287.5,812.4 C288.1,814.4 289.3,819.7 290.0,822.3 C290.6,825.0 291.9,829.3 292.5,832.3 C293.1,835.3 294.0,842.0 294.4,844.8 C294.9,847.6 295.4,852.1 295.7,853.5 C296.0,855.0 296.4,856.5 296.7,856.0 C297.0,855.5 297.6,852.6 297.9,849.8 C298.3,847.0 299.0,838.7 299.4,834.8 C299.9,831.0 300.7,823.8 301.2,821.1 C301.7,818.4 302.4,815.9 302.9,814.9 C303.4,813.9 304.4,813.3 304.9,813.6 C305.5,813.9 306.5,816.0 306.9,817.4 C307.4,818.7 307.9,822.6 308.2,823.6 C308.5,824.6 308.9,826.0 309.2,824.8 C309.5,823.7 310.1,818.2 310.4,814.9 C310.8,811.5 311.2,802.7 311.7,799.9 C312.1,797.1 312.9,795.0 313.7,793.6 C314.4,792.2 316.2,790.4 317.4,789.4 C318.6,788.4 320.9,786.9 322.4,786.2 C323.9,785.4 326.8,784.3 328.6,783.7 C330.5,783.1 334.1,782.0 336.1,781.7 C338.1,781.3 341.6,781.5 343.6,781.2 C345.6,780.9 349.1,780.1 351.1,779.4 C353.1,778.7 356.6,776.9 358.6,776.2 C360.6,775.4 364.1,774.2 366.1,773.7 C368.1,773.1 371.6,772.4 373.6,771.9 C375.6,771.5 379.1,770.6 381.1,770.2 C383.1,769.7 387.6,768.7 388.6,768.4" stroke="#ff80ff" stroke-width="4.0"/>
<path d="M399.8,766.7 C401.1,766.6 406.8,766.4 409.2,766.3 C411.6,766.2 416.1,766.0 418.0,766.1 C419.9,766.2 422.5,766.9 423.8,767.1 C425.1,767.3 426.5,767.4 428.0,767.6 C429.5,767.8 433.4,768.3 435.0,768.8 C436.6,769.3 438.9,770.3 440.0,771.0 C441.1,771.7 442.4,772.8 443.0,774.0 C443.6,775.2 444.1,777.6 444.4,780.0 C444.7,782.4 445.3,788.9 445.6,792.0 C445.9,795.1 446.3,800.9 446.6,803.0 C446.9,805.1 447.3,807.2 447.6,807.6 C447.9,808.0 448.6,806.3 449.0,806.0 C449.4,805.7 450.0,804.9 450.4,805.0 C450.8,805.1 451.6,806.2 452.0,807.0 C452.4,807.8 453.2,809.9 453.6,811.0 C454.0,812.1 454.8,813.3 455.2,815.0 C455.6,816.7 456.1,820.7 456.4,824.0 C456.7,827.3 457.3,835.7 457.6,840.0 C457.9,844.3 458.5,851.7 458.8,856.0 C459.1,860.3 459.7,868.3 460.0,872.0 C460.3,875.7 460.7,881.6 461.0,884.0 C461.3,886.4 461.7,887.3 462.0,890.0 C462.3,892.7 462.9,900.5 463.2,904.0 C463.5,907.5 464.1,913.1 464.4,916.0 C464.7,918.9 465.2,923.7 465.6,926.0 C466.0,928.3 466.8,933.3 467.2,933.6 C467.6,933.9 468.4,930.1 468.8,928.0 C469.2,925.9 469.7,920.9 470.0,918.0 C470.3,915.1 470.9,909.2 471.2,906.0 C471.5,902.8 472.1,896.8 472.4,894.0 C472.7,891.2 473.3,886.9 473.6,885.0 C473.9,883.1 474.6,879.8 475.0,879.4 C475.4,879.0 476.1,880.7 476.4,882.0 C476.7,883.3 477.3,888.5 477.6,889.0 C477.9,889.5 478.4,887.7 478.6,886.0 C478.8,884.3 479.2,878.1 479.4,876.0 C479.6,873.9 479.7,870.5 480.0,870.0 C480.3,869.5 481.2,870.7 481.6,872.0 C482.0,873.3 482.6,878.1 483.0,880.0 C483.4,881.9 484.0,884.7 484.4,886.0 C484.8,887.3 485.6,889.7 486.0,890.0 C486.4,890.3 487.2,889.1 487.6,888.0 C488.0,886.9 488.7,884.7 489.0,882.0 C489.3,879.3 489.7,870.8 490.0,868.0 C490.3,865.2 491.2,862.3 491.6,861.0 C492.0,859.7 492.8,859.5 493.2,858.0 C493.6,856.5 494.1,851.9 494.4,850.0 C494.7,848.1 495.3,844.9 495.6,844.0 C495.9,843.1 496.5,842.8 496.8,843.6 C497.1,844.4 497.7,847.3 498.0,850.0 C498.3,852.7 498.9,860.3 499.2,864.0 C499.5,867.7 500.2,875.1 500.4,878.0 C500.6,880.9 500.2,884.3 500.4,886.0 C500.6,887.7 501.5,890.1 502.0,891.0 C502.5,891.9 503.5,892.5 504.0,892.4 C504.5,892.3 505.5,891.1 506.0,890.0 C506.5,888.9 507.3,885.9 507.6,884.0 C507.9,882.1 507.7,878.3 508.0,876.0 C508.3,873.7 509.5,869.1 510.0,867.0 C510.5,864.9 511.5,861.2 512.0,860.0 C512.5,858.8 513.2,858.0 513.6,858.0 C514.0,858.0 514.8,859.6 515.2,860.0 C515.6,860.4 516.0,861.5 516.4,861.0 C516.8,860.5 517.6,857.1 518.0,856.0 C518.4,854.9 519.2,853.4 519.6,853.0 C520.0,852.6 520.8,852.7 521.2,853.0 C521.6,853.3 522.4,854.7 522.8,855.0 C523.2,855.3 524.0,855.9 524.4,855.6 C524.8,855.3 525.6,852.9 526.0,852.4 C526.4,851.9 527.1,851.0 527.4,851.6 C527.7,852.2 528.3,854.8 528.6,857.0 C528.9,859.2 529.3,864.9 529.6,868.0 C529.9,871.1 530.3,876.8 530.6,880.0 C530.9,883.2 531.3,888.5 531.6,892.0 C531.9,895.5 532.3,902.9 532.6,906.0 C532.9,909.1 533.3,913.7 533.6,915.0 C533.9,916.3 534.5,916.7 534.8,916.0 C535.1,915.3 535.7,911.9 536.0,910.0 C536.3,908.1 536.9,903.5 537.2,902.0 C537.5,900.5 538.1,899.0 538.4,899.0 C538.7,899.0 539.3,900.5 539.6,902.0 C539.9,903.5 540.4,908.1 540.8,910.0 C541.2,911.9 541.9,915.0 542.4,916.0 C542.9,917.0 543.8,917.3 544.4,917.6 C545.0,917.9 546.3,918.1 547.0,918.0 C547.7,917.9 549.0,916.9 549.6,917.0 C550.2,917.1 551.1,917.9 551.6,919.0 C552.1,920.1 552.8,923.4 553.2,925.0 C553.6,926.6 554.4,930.1 554.8,931.0 C555.2,931.9 555.6,931.7 556.0,932.0 C556.4,932.3 557.2,931.9 557.6,933.0 C558.0,934.1 558.5,937.5 558.8,940.0 C559.1,942.5 559.4,948.5 559.6,952.0 C559.8,955.5 560.2,963.2 560.4,966.0 C560.6,968.8 561.0,973.0 561.2,973.0 C561.4,973.0 561.8,968.8 562.0,966.0 C562.2,963.2 562.7,955.1 563.0,952.0 C563.3,948.9 563.7,944.5 564.0,943.0 C564.3,941.5 565.2,940.5 565.6,940.6 C566.0,940.7 566.8,943.2 567.2,944.0 C567.6,944.8 568.4,946.1 568.8,946.4 C569.2,946.7 570.0,946.6 570.4,946.0 C570.8,945.4 571.6,944.1 572.0,942.0 C572.4,939.9 572.9,933.7 573.2,930.0 C573.5,926.3 574.1,917.7 574.4,914.0 C574.7,910.3 575.3,903.9 575.6,902.0 C575.9,900.1 576.5,899.6 576.8,900.0 C577.1,900.4 577.7,902.3 578.0,905.0 C578.3,907.7 578.7,915.9 579.0,920.0 C579.3,924.1 579.7,932.0 580.0,936.0 C580.3,940.0 580.8,945.7 581.0,950.0 C581.2,954.3 581.5,967.7 581.8,968.0 C582.1,968.3 582.7,956.8 583.0,952.0 C583.3,947.2 584.0,936.8 584.4,932.0 C584.8,927.2 585.5,920.3 586.0,916.0 C586.5,911.7 587.5,904.0 588.0,900.0 C588.5,896.0 589.5,890.0 590.0,886.0 C590.5,882.0 591.5,873.9 592.0,870.0 C592.5,866.1 593.5,859.5 594.0,857.0 C594.5,854.5 595.2,852.1 595.6,851.0 C596.0,849.9 596.8,848.6 597.2,848.6 C597.6,848.6 598.4,849.9 598.8,851.0 C599.2,852.1 600.0,855.4 600.4,857.0 C600.8,858.6 601.6,862.0 602.0,863.0 C602.4,864.0 602.9,864.8 603.2,864.4 C603.5,864.0 604.0,861.1 604.4,860.0 C604.8,858.9 605.6,856.9 606.0,856.4 C606.4,855.9 607.2,856.5 607.6,856.0 C608.0,855.5 608.8,853.7 609.2,853.0 C609.6,852.3 610.4,850.9 610.8,850.4 C611.2,849.9 612.0,849.6 612.4,849.6 C612.8,849.6 613.6,849.7 614.0,850.4 C614.4,851.1 615.2,852.9 615.6,855.0 C616.0,857.1 616.5,863.2 616.8,866.0 C617.1,868.8 617.7,874.4 618.0,876.0 C618.3,877.6 618.9,878.8 619.2,878.0 C619.5,877.2 620.0,872.4 620.4,870.0 C620.8,867.6 621.6,861.8 622.0,860.0 C622.4,858.2 623.2,856.7 623.6,856.4 C624.0,856.1 624.8,857.1 625.2,858.0 C625.6,858.9 626.3,861.5 626.8,863.0 C627.3,864.5 628.3,867.5 628.8,869.0 C629.3,870.5 630.3,872.4 630.8,874.0 C631.3,875.6 632.3,879.1 632.8,881.0 C633.3,882.9 634.3,885.9 634.8,888.0 C635.3,890.1 636.3,894.9 636.8,897.0 C637.3,899.1 638.3,902.1 638.8,904.0 C639.3,905.9 640.0,909.7 640.4,911.0 C640.8,912.3 641.6,912.8 642.0,914.0 C642.4,915.2 642.9,917.6 643.2,920.0 C643.5,922.4 644.1,928.8 644.4,932.0 C644.7,935.2 645.4,941.1 645.6,944.0 C645.8,946.9 645.8,952.8 646.0,953.6 C646.2,954.4 646.9,951.3 647.2,950.0 C647.5,948.7 648.2,945.1 648.4,944.0 C648.6,942.9 648.5,942.6 648.8,942.0 C649.1,941.4 649.9,939.7 650.4,939.6 C650.9,939.5 651.9,940.5 652.4,941.0 C652.9,941.5 653.9,942.9 654.4,943.6 C654.9,944.3 656.4,946.1 656.4,946.4 C656.4,946.7 654.4,945.5 654.4,946.0 C654.4,946.5 655.9,948.9 656.4,950.0 C656.9,951.1 657.9,952.7 658.4,954.0 C658.9,955.3 659.6,958.1 660.0,960.0 C660.4,961.9 661.2,965.9 661.6,968.0 C662.0,970.1 662.8,973.9 663.2,976.0 C663.6,978.1 664.4,981.9 664.8,984.0 C665.2,986.1 666.0,989.9 666.4,992.0 C666.8,994.1 667.6,997.9 668.0,1000.0 C668.4,1002.1 669.2,1006.0 669.6,1008.0 C670.0,1010.0 670.5,1013.5 670.8,1015.0 C671.1,1016.5 671.6,1018.6 672.0,1019.0 C672.4,1019.4 673.2,1018.4 673.6,1018.0 C674.0,1017.6 674.5,1015.7 674.8,1016.0 C675.1,1016.3 675.7,1018.7 676.0,1020.0 C676.3,1021.3 676.9,1024.8 677.2,1026.0 C677.5,1027.2 678.1,1029.0 678.4,1029.0 C678.7,1029.0 679.3,1027.2 679.6,1026.0 C679.9,1024.8 680.5,1021.7 680.8,1020.0 C681.1,1018.3 681.8,1013.9 682.0,1013.0" stroke="#ff80ff" stroke-width="4.0"/>
<path d="M106.5,861.5 C109.0,861.4 119.8,861.1 125.0,861.0 C130.1,860.8 140.4,860.5 144.9,860.5 C149.4,860.4 156.2,860.3 158.7,860.5 C161.2,860.7 162.3,861.2 163.7,862.0 C165.0,862.7 167.1,864.6 168.6,866.2 C170.1,867.8 172.7,871.2 174.9,873.7 C177.1,876.2 182.2,882.2 184.9,884.9 C187.5,887.6 192.2,891.8 194.9,894.2 C197.5,896.5 202.3,900.1 204.8,902.4 C207.3,904.7 211.6,909.1 213.6,911.1 C215.6,913.1 218.3,915.9 219.8,917.4 C221.3,918.8 223.4,920.9 224.8,921.9 C226.2,922.8 229.0,924.2 230.3,924.4 C231.6,924.6 233.5,924.0 234.8,923.4 C236.1,922.7 238.1,920.3 239.8,919.4 C241.5,918.4 245.4,917.3 247.3,916.1 C249.1,914.9 252.0,911.9 253.5,910.4 C255.0,908.9 257.3,905.8 258.5,904.9 C259.7,904.0 261.3,903.6 262.3,903.4 C263.3,903.2 265.6,903.7 266.0,903.6 C266.4,903.6 264.5,903.1 265.0,903.1 C265.5,903.2 268.8,904.4 270.0,904.1 C271.1,903.9 272.7,902.1 273.7,901.1 C274.7,900.2 276.5,897.7 277.5,896.9 C278.5,896.1 280.3,895.1 281.2,894.9 C282.2,894.7 283.6,895.0 284.5,895.7 C285.3,896.3 286.7,898.7 287.5,899.9 C288.3,901.1 289.7,903.5 290.5,904.4 C291.2,905.3 292.6,906.1 293.2,906.9 C293.8,907.7 294.5,909.8 294.9,910.4 C295.4,911.0 296.0,911.8 296.4,911.4 C296.8,911.0 297.5,908.7 297.9,907.4 C298.3,906.0 298.9,902.5 299.4,901.1 C300.0,899.7 301.2,897.6 301.9,896.9 C302.7,896.2 304.2,896.0 304.9,895.9 C305.7,895.8 306.8,896.5 307.4,896.4 C308.0,896.3 309.0,896.3 309.4,895.4 C309.9,894.5 310.3,891.2 310.7,889.9 C311.1,888.6 311.7,886.4 312.4,885.4 C313.2,884.4 314.8,883.2 316.2,882.4 C317.5,881.7 320.7,880.5 322.4,879.9 C324.1,879.3 326.8,878.4 328.6,877.9 C330.5,877.5 334.1,876.9 336.1,876.7 C338.1,876.5 341.6,876.7 343.6,876.4 C345.6,876.2 349.1,875.5 351.1,874.9 C353.1,874.3 356.6,872.5 358.6,871.9 C360.6,871.3 364.1,870.8 366.1,870.4 C368.1,870.0 371.6,869.3 373.6,868.9 C375.6,868.6 379.1,868.2 381.1,867.9 C383.1,867.7 387.6,867.1 388.6,866.9" stroke="#959595" stroke-width="3.8"/>
<path d="M399.8,862.7 C401.1,862.6 407.1,862.1 409.8,862.0 C412.4,861.8 417.3,861.7 419.8,861.7 C422.2,861.7 426.0,861.8 428.0,862.0 C430.0,862.2 433.4,862.7 435.0,863.0 C436.6,863.3 438.9,864.1 440.0,864.4 C441.1,864.7 442.3,864.7 443.0,865.6 C443.7,866.5 444.5,869.2 445.0,871.0 C445.5,872.8 446.3,877.0 447.0,879.0 C447.7,881.0 449.2,884.0 450.0,886.0 C450.8,888.0 452.3,892.1 453.0,894.0 C453.7,895.9 454.5,897.3 455.0,900.0 C455.5,902.7 456.1,910.0 456.4,914.0 C456.7,918.0 457.3,925.7 457.6,930.0 C457.9,934.3 458.6,941.7 459.0,946.0 C459.4,950.3 460.0,958.0 460.4,962.0 C460.8,966.0 461.6,972.5 462.0,976.0 C462.4,979.5 463.2,985.1 463.6,988.0 C464.0,990.9 464.7,995.9 465.2,998.0 C465.7,1000.1 466.7,1003.7 467.2,1004.0 C467.7,1004.3 468.6,1002.1 469.0,1000.0 C469.4,997.9 470.1,991.7 470.4,988.0 C470.7,984.3 471.3,975.7 471.6,972.0 C471.9,968.3 472.5,962.5 472.8,960.0 C473.1,957.5 473.6,954.2 474.0,953.0 C474.4,951.8 475.2,950.6 475.6,951.0 C476.0,951.4 476.7,955.7 477.0,956.0 C477.3,956.3 477.7,954.2 478.0,953.0 C478.3,951.8 478.7,948.1 479.0,947.0 C479.3,945.9 479.7,944.9 480.0,945.0 C480.3,945.1 480.9,946.5 481.2,948.0 C481.5,949.5 482.0,953.6 482.4,956.0 C482.8,958.4 483.6,963.8 484.0,966.0 C484.4,968.2 485.2,971.7 485.6,972.4 C486.0,973.1 486.8,972.1 487.2,971.0 C487.6,969.9 488.4,965.9 488.8,964.0 C489.2,962.1 490.0,958.6 490.4,957.0 C490.8,955.4 491.6,952.9 492.0,952.0 C492.4,951.1 492.9,951.6 493.2,950.0 C493.5,948.4 494.1,942.5 494.4,940.0 C494.7,937.5 495.3,932.5 495.6,931.0 C495.9,929.5 496.5,928.6 496.8,929.0 C497.1,929.4 497.7,931.7 498.0,934.0 C498.3,936.3 498.9,943.1 499.2,946.0 C499.5,948.9 500.0,953.9 500.4,956.0 C500.8,958.1 501.5,961.1 502.0,962.0 C502.5,962.9 503.5,962.8 504.0,962.4 C504.5,962.0 505.5,960.7 506.0,959.0 C506.5,957.3 507.5,952.5 508.0,950.0 C508.5,947.5 509.5,942.4 510.0,940.0 C510.5,937.6 511.5,933.5 512.0,932.0 C512.5,930.5 513.5,929.3 514.0,929.0 C514.5,928.7 515.5,930.3 516.0,930.0 C516.5,929.7 517.2,927.8 517.6,927.0 C518.0,926.2 518.8,924.3 519.2,924.0 C519.6,923.7 520.4,924.5 520.8,925.0 C521.2,925.5 522.0,927.5 522.4,928.0 C522.8,928.5 523.6,929.1 524.0,929.0 C524.4,928.9 525.2,927.3 525.6,927.0 C526.0,926.7 526.8,926.0 527.2,926.4 C527.6,926.8 528.1,928.2 528.4,930.0 C528.7,931.8 529.3,936.8 529.6,940.0 C529.9,943.2 530.5,950.5 530.8,954.0 C531.1,957.5 531.7,963.5 532.0,966.0 C532.3,968.5 532.9,971.3 533.2,972.4 C533.5,973.5 534.0,974.3 534.4,974.0 C534.8,973.7 535.6,970.9 536.0,970.0 C536.4,969.1 537.2,967.3 537.6,967.0 C538.0,966.7 538.5,967.2 538.8,968.0 C539.1,968.8 539.6,971.7 540.0,973.0 C540.4,974.3 541.1,976.8 541.6,977.6 C542.1,978.4 543.1,978.9 543.6,979.0 C544.1,979.1 545.1,978.5 545.6,978.4 C546.1,978.3 547.0,978.2 547.6,978.0 C548.2,977.8 549.5,977.3 550.0,977.0 C550.5,976.7 551.2,975.7 551.6,976.0 C552.0,976.3 552.8,978.1 553.2,979.0 C553.6,979.9 554.4,982.9 554.8,983.0 C555.2,983.1 556.0,980.8 556.4,980.0 C556.8,979.2 557.3,976.2 557.6,977.0 C557.9,977.8 558.5,982.9 558.8,986.0 C559.1,989.1 559.7,997.3 560.0,1000.0 C560.3,1002.7 560.9,1006.0 561.2,1006.0 C561.5,1006.0 562.1,1002.1 562.4,1000.0 C562.7,997.9 563.3,991.9 563.6,990.0 C563.9,988.1 564.5,986.6 564.8,986.0 C565.1,985.4 565.7,985.2 566.0,985.6 C566.3,986.0 566.8,988.1 567.2,989.0 C567.6,989.9 568.4,991.7 568.8,992.4 C569.2,993.1 570.0,994.0 570.4,994.0 C570.8,994.0 571.6,993.5 572.0,992.4 C572.4,991.3 572.9,988.5 573.2,986.0 C573.5,983.5 574.1,977.5 574.4,974.0 C574.7,970.5 575.3,963.2 575.6,960.0 C575.9,956.8 576.5,951.6 576.8,950.0 C577.1,948.4 577.7,947.2 578.0,948.0 C578.3,948.8 578.6,952.8 578.8,956.0 C579.0,959.2 579.4,967.7 579.6,972.0 C579.8,976.3 580.2,985.0 580.4,988.0 C580.6,991.0 581.1,994.4 581.4,994.4 C581.7,994.4 582.1,991.3 582.4,988.0 C582.7,984.7 583.1,974.8 583.4,970.0 C583.7,965.2 584.0,956.0 584.4,952.0 C584.8,948.0 585.9,942.7 586.4,940.0 C586.9,937.3 587.5,934.0 588.0,932.0 C588.5,930.0 589.5,926.5 590.0,925.0 C590.5,923.5 591.4,921.9 592.0,921.0 C592.6,920.1 593.8,918.6 594.4,918.0 C595.0,917.4 596.2,916.7 596.8,916.6 C597.4,916.5 598.3,917.0 598.8,917.6 C599.3,918.2 600.0,919.9 600.4,921.0 C600.8,922.1 601.6,924.9 602.0,926.0 C602.4,927.1 603.2,929.0 603.6,929.0 C604.0,929.0 604.8,926.7 605.2,926.0 C605.6,925.3 606.4,923.9 606.8,923.6 C607.2,923.3 608.0,924.2 608.4,924.0 C608.8,923.8 609.6,922.6 610.0,922.0 C610.4,921.4 611.2,920.1 611.6,919.6 C612.0,919.1 612.8,918.4 613.2,918.4 C613.6,918.4 614.4,918.9 614.8,919.6 C615.2,920.3 615.7,922.1 616.0,924.0 C616.3,925.9 616.9,931.7 617.2,934.0 C617.5,936.3 618.1,940.0 618.4,941.0 C618.7,942.0 619.3,942.1 619.6,941.6 C619.9,941.1 620.4,938.3 620.8,937.0 C621.2,935.7 622.0,932.9 622.4,932.0 C622.8,931.1 623.5,930.4 624.0,930.4 C624.5,930.4 625.5,931.5 626.0,932.0 C626.5,932.5 627.4,933.6 628.0,934.4 C628.6,935.2 629.8,936.9 630.4,938.0 C631.0,939.1 632.2,941.8 632.8,943.0 C633.4,944.2 634.8,946.9 634.8,947.0 C634.8,947.1 633.0,943.7 633.0,944.0 C633.0,944.3 634.5,947.5 635.0,949.0 C635.5,950.5 636.5,953.5 637.0,955.0 C637.5,956.5 638.5,958.8 639.0,960.0 C639.5,961.2 640.5,963.1 641.0,964.0 C641.5,964.9 642.1,965.7 642.4,967.0 C642.7,968.3 643.0,971.7 643.2,974.0 C643.4,976.3 643.8,981.5 644.0,984.0 C644.2,986.5 644.7,991.4 645.0,993.0 C645.3,994.6 645.7,996.0 646.0,996.0 C646.3,996.0 646.9,993.9 647.2,993.0 C647.5,992.1 648.0,989.7 648.4,989.0 C648.8,988.3 649.5,988.0 650.0,988.0 C650.5,988.0 651.5,988.6 652.0,989.0 C652.5,989.4 653.5,990.5 654.0,991.0 C654.5,991.5 655.5,991.7 656.0,992.4 C656.5,993.1 657.5,995.0 658.0,996.0 C658.5,997.0 659.5,998.8 660.0,1000.0 C660.5,1001.2 661.5,1003.7 662.0,1005.0 C662.5,1006.3 663.5,1008.5 664.0,1010.0 C664.5,1011.5 665.5,1014.4 666.0,1016.0 C666.5,1017.6 667.2,1020.3 667.6,1022.0 C668.0,1023.7 668.8,1027.1 669.2,1029.0 C669.6,1030.9 670.1,1034.5 670.4,1036.0 C670.7,1037.5 671.2,1039.3 671.6,1040.0 C672.0,1040.7 672.8,1041.5 673.2,1041.6 C673.6,1041.7 674.4,1040.7 674.8,1041.0 C675.2,1041.3 675.7,1043.1 676.0,1044.0 C676.3,1044.9 676.9,1046.9 677.2,1047.6 C677.5,1048.3 678.1,1049.1 678.4,1049.0 C678.7,1048.9 679.3,1047.9 679.6,1047.0 C679.9,1046.1 680.5,1043.2 680.8,1042.0 C681.1,1040.8 681.8,1038.5 682.0,1038.0" stroke="#959595" stroke-width="3.8"/>
<path d="M106.5,913.2 C109.0,913.1 119.8,912.6 125.0,912.5 C130.1,912.4 140.4,912.3 144.9,912.5 C149.4,912.6 156.2,913.1 158.7,913.5 C161.2,913.9 162.4,914.5 163.7,915.5 C164.9,916.4 166.6,918.5 167.9,920.5 C169.2,922.4 172.0,927.2 173.6,930.0 C175.2,932.7 178.0,938.1 179.9,941.2 C181.7,944.3 185.0,949.7 187.4,952.9 C189.7,956.1 194.7,962.1 197.4,965.4 C200.0,968.7 205.0,974.8 207.3,977.9 C209.7,981.0 213.2,986.2 214.8,988.6 C216.5,991.0 218.5,994.5 219.8,996.1 C221.2,997.7 223.4,999.6 224.8,1000.3 C226.2,1001.1 229.0,1001.8 230.3,1001.8 C231.6,1001.8 233.7,1001.2 234.8,1000.3 C235.9,999.5 237.4,996.9 238.5,995.6 C239.7,994.3 242.2,991.8 243.5,990.4 C244.9,988.9 247.2,986.7 248.5,984.9 C249.9,983.1 252.3,978.8 253.5,976.9 C254.8,975.0 256.7,971.8 257.8,970.6 C258.9,969.5 260.7,968.3 261.8,968.1 C262.9,967.9 265.6,969.1 266.0,969.1 C266.4,969.1 264.5,968.1 265.0,968.1 C265.5,968.2 268.4,969.9 269.5,969.6 C270.6,969.4 272.0,967.3 273.0,966.2 C274.0,965.0 276.0,961.7 277.0,960.7 C278.0,959.7 279.5,958.8 280.5,958.7 C281.4,958.5 283.2,958.8 284.0,959.7 C284.8,960.5 285.8,963.2 286.5,964.9 C287.1,966.6 288.3,970.6 289.0,972.4 C289.6,974.2 290.8,977.1 291.5,978.6 C292.1,980.1 293.2,982.0 293.7,983.6 C294.2,985.3 294.6,989.5 294.9,991.1 C295.3,992.7 295.9,995.4 296.2,995.4 C296.5,995.4 297.1,993.2 297.4,991.1 C297.8,989.0 298.3,982.7 298.7,979.9 C299.1,977.1 299.9,972.0 300.4,969.9 C300.9,967.8 301.9,965.3 302.4,964.4 C303.0,963.5 303.9,963.2 304.4,963.2 C305.0,963.2 306.0,963.7 306.4,964.4 C306.9,965.1 307.6,967.6 307.9,968.1 C308.3,968.7 308.9,969.7 309.2,968.6 C309.5,967.5 309.9,962.6 310.2,959.9 C310.5,957.2 311.0,950.9 311.4,948.7 C311.9,946.4 312.7,944.2 313.4,942.9 C314.2,941.7 315.7,940.3 316.9,939.4 C318.1,938.6 320.8,937.1 322.4,936.4 C324.0,935.7 326.8,934.7 328.6,934.2 C330.5,933.7 334.1,932.7 336.1,932.5 C338.1,932.3 341.6,932.9 343.6,932.7 C345.6,932.5 349.1,931.7 351.1,931.0 C353.1,930.3 356.6,928.2 358.6,927.5 C360.6,926.7 364.1,925.7 366.1,925.2 C368.1,924.7 371.6,923.9 373.6,923.5 C375.6,923.0 379.1,922.2 381.1,921.7 C383.1,921.3 387.6,920.2 388.6,920.0" stroke="#000000" stroke-width="3.9"/>
<path d="M399.8,917.0 C401.1,916.9 407.1,916.5 409.8,916.5 C412.4,916.4 417.3,916.5 419.8,916.5 C422.2,916.4 426.1,915.9 428.0,916.0 C429.9,916.1 432.5,916.5 434.0,917.0 C435.5,917.5 437.9,918.8 439.0,919.6 C440.1,920.4 441.7,921.6 442.4,923.0 C443.1,924.4 444.0,927.7 444.4,930.0 C444.8,932.3 445.3,937.1 445.6,940.0 C445.9,942.9 446.5,949.3 447.0,952.0 C447.5,954.7 448.4,958.0 449.0,960.0 C449.6,962.0 450.9,965.3 451.6,967.0 C452.3,968.7 453.5,971.3 454.0,973.0 C454.5,974.7 455.3,977.5 455.6,980.0 C455.9,982.5 456.3,988.8 456.6,992.0 C456.9,995.2 457.4,1000.8 457.6,1004.0 C457.8,1007.2 457.8,1012.0 458.0,1016.0 C458.2,1020.0 458.9,1029.2 459.2,1034.0 C459.5,1038.8 460.0,1046.9 460.4,1052.0 C460.8,1057.1 461.6,1067.2 462.0,1072.0 C462.4,1076.8 463.2,1083.7 463.6,1088.0 C464.0,1092.3 464.8,1100.4 465.2,1104.0 C465.6,1107.6 466.2,1113.2 466.6,1115.0 C467.0,1116.8 467.7,1118.0 468.0,1117.6 C468.3,1117.2 468.9,1114.9 469.2,1112.0 C469.5,1109.1 470.1,1100.8 470.4,1096.0 C470.7,1091.2 471.3,1081.3 471.6,1076.0 C471.9,1070.7 472.5,1060.5 472.8,1056.0 C473.1,1051.5 473.7,1044.7 474.0,1042.0 C474.3,1039.3 474.9,1036.8 475.2,1036.0 C475.5,1035.2 476.2,1036.5 476.6,1036.0 C477.0,1035.5 477.7,1033.1 478.0,1032.0 C478.3,1030.9 478.9,1028.1 479.2,1027.6 C479.5,1027.1 480.1,1026.9 480.4,1028.0 C480.7,1029.1 481.3,1033.1 481.6,1036.0 C481.9,1038.9 482.5,1046.5 482.8,1050.0 C483.1,1053.5 483.6,1059.2 484.0,1062.0 C484.4,1064.8 485.2,1069.6 485.6,1071.0 C486.0,1072.4 486.6,1072.8 487.0,1072.4 C487.4,1072.0 488.0,1069.9 488.4,1068.0 C488.8,1066.1 489.6,1060.9 490.0,1058.0 C490.4,1055.1 491.2,1048.7 491.6,1046.0 C492.0,1043.3 492.8,1040.1 493.2,1038.0 C493.6,1035.9 494.1,1032.9 494.4,1030.0 C494.7,1027.1 495.1,1018.9 495.4,1016.0 C495.7,1013.1 496.1,1008.9 496.4,1008.0 C496.7,1007.1 497.3,1007.4 497.6,1009.0 C497.9,1010.6 498.3,1016.7 498.6,1020.0 C498.9,1023.3 499.3,1030.5 499.6,1034.0 C499.9,1037.5 500.5,1043.5 500.8,1046.0 C501.1,1048.5 501.7,1051.9 502.0,1053.0 C502.3,1054.1 503.0,1054.5 503.4,1054.4 C503.8,1054.3 504.6,1053.4 505.0,1052.0 C505.4,1050.6 506.1,1046.4 506.6,1044.0 C507.1,1041.6 507.9,1036.9 508.4,1034.0 C508.9,1031.1 509.9,1024.7 510.4,1022.0 C510.9,1019.3 511.6,1015.3 512.0,1014.0 C512.4,1012.7 513.1,1012.3 513.6,1012.0 C514.1,1011.7 515.1,1012.1 515.6,1012.0 C516.1,1011.9 516.8,1011.8 517.2,1011.0 C517.6,1010.2 518.0,1006.9 518.4,1006.0 C518.8,1005.1 519.6,1003.9 520.0,1004.0 C520.4,1004.1 521.0,1005.9 521.4,1007.0 C521.8,1008.1 522.4,1011.1 522.8,1012.0 C523.2,1012.9 524.0,1013.8 524.4,1013.6 C524.8,1013.4 525.6,1010.9 526.0,1010.4 C526.4,1009.9 527.2,1009.1 527.6,1009.6 C528.0,1010.1 528.7,1012.1 529.0,1014.0 C529.3,1015.9 529.9,1020.8 530.2,1024.0 C530.5,1027.2 531.1,1034.3 531.4,1038.0 C531.7,1041.7 532.3,1049.3 532.6,1052.0 C532.9,1054.7 533.4,1057.5 533.8,1058.0 C534.2,1058.5 535.0,1056.6 535.4,1056.0 C535.8,1055.4 536.4,1053.9 536.8,1053.6 C537.2,1053.3 537.9,1053.4 538.2,1054.0 C538.5,1054.6 539.1,1056.5 539.4,1058.0 C539.7,1059.5 540.3,1063.3 540.6,1065.0 C540.9,1066.7 541.6,1069.9 542.0,1071.0 C542.4,1072.1 543.1,1073.0 543.6,1073.4 C544.1,1073.8 545.4,1073.8 546.0,1074.0 C546.6,1074.2 547.5,1075.1 548.0,1075.0 C548.5,1074.9 549.5,1073.7 550.0,1073.6 C550.5,1073.5 551.2,1073.7 551.6,1074.4 C552.0,1075.1 552.6,1077.9 553.0,1079.0 C553.4,1080.1 554.0,1082.3 554.4,1083.0 C554.8,1083.7 555.6,1084.4 556.0,1084.0 C556.4,1083.6 556.9,1080.0 557.2,1080.0 C557.5,1080.0 558.1,1082.1 558.4,1084.0 C558.7,1085.9 559.1,1091.7 559.4,1094.0 C559.7,1096.3 560.1,1100.0 560.4,1101.0 C560.7,1102.0 561.1,1102.5 561.4,1101.6 C561.7,1100.7 562.1,1096.6 562.4,1094.0 C562.7,1091.4 563.3,1084.5 563.6,1082.0 C563.9,1079.5 564.5,1076.1 564.8,1075.0 C565.1,1073.9 565.7,1073.3 566.0,1073.6 C566.3,1073.9 566.8,1076.2 567.2,1077.0 C567.6,1077.8 568.4,1079.1 568.8,1079.6 C569.2,1080.1 570.0,1080.6 570.4,1080.4 C570.8,1080.2 571.6,1079.5 572.0,1078.4 C572.4,1077.3 572.9,1076.1 573.2,1072.0 C573.5,1067.9 573.7,1052.5 574.0,1048.0 C574.3,1043.5 574.9,1040.0 575.2,1038.0 C575.5,1036.0 576.1,1033.8 576.4,1033.0 C576.7,1032.2 577.3,1031.3 577.6,1032.0 C577.9,1032.7 578.2,1035.3 578.4,1038.0 C578.6,1040.7 579.0,1048.3 579.2,1052.0 C579.4,1055.7 580.0,1063.3 580.0,1066.0 C580.0,1068.7 579.3,1069.3 579.4,1072.0 C579.5,1074.7 580.1,1083.6 580.4,1086.0 C580.7,1088.4 581.1,1090.3 581.4,1090.0 C581.7,1089.7 582.1,1086.7 582.4,1084.0 C582.7,1081.3 583.2,1073.7 583.4,1070.0 C583.6,1066.3 583.8,1060.0 584.0,1056.0 C584.2,1052.0 584.9,1044.0 585.2,1040.0 C585.5,1036.0 586.0,1029.2 586.4,1026.0 C586.8,1022.8 587.5,1018.7 588.0,1016.0 C588.5,1013.3 589.5,1008.3 590.0,1006.0 C590.5,1003.7 591.4,1000.5 592.0,999.0 C592.6,997.5 593.8,995.3 594.4,994.4 C595.0,993.5 596.2,992.7 596.8,992.6 C597.4,992.5 598.3,993.0 598.8,993.6 C599.3,994.2 600.0,996.0 600.4,997.0 C600.8,998.0 601.6,1000.2 602.0,1001.0 C602.4,1001.8 603.0,1003.1 603.4,1003.0 C603.8,1002.9 604.4,1000.6 604.8,1000.0 C605.2,999.4 606.0,998.7 606.4,998.6 C606.8,998.5 607.6,999.2 608.0,999.0 C608.4,998.8 609.2,997.5 609.6,997.0 C610.0,996.5 610.8,995.4 611.2,995.0 C611.6,994.6 612.4,994.1 612.8,994.0 C613.2,993.9 614.0,993.9 614.4,994.4 C614.8,994.9 615.3,996.3 615.6,998.0 C615.9,999.7 616.5,1004.9 616.8,1007.0 C617.1,1009.1 617.7,1012.9 618.0,1014.0 C618.3,1015.1 618.9,1015.4 619.2,1015.0 C619.5,1014.6 620.0,1012.1 620.4,1011.0 C620.8,1009.9 621.6,1007.8 622.0,1007.0 C622.4,1006.2 623.2,1005.1 623.6,1005.0 C624.0,1004.9 624.8,1005.6 625.2,1006.4 C625.6,1007.2 626.3,1009.5 626.8,1011.0 C627.3,1012.5 628.3,1016.1 628.8,1018.0 C629.3,1019.9 630.3,1023.1 630.8,1025.0 C631.3,1026.9 632.3,1030.0 632.8,1032.0 C633.3,1034.0 634.3,1038.0 634.8,1040.0 C635.3,1042.0 636.3,1045.1 636.8,1047.0 C637.3,1048.9 638.3,1052.6 638.8,1054.0 C639.3,1055.4 640.0,1056.8 640.4,1057.6 C640.8,1058.4 641.7,1058.6 642.0,1060.0 C642.3,1061.4 642.9,1066.9 643.0,1068.0 C643.1,1069.1 642.9,1066.4 643.0,1068.0 C643.1,1069.6 643.7,1077.1 644.0,1080.0 C644.3,1082.9 644.7,1088.5 645.0,1090.0 C645.3,1091.5 645.7,1091.9 646.0,1091.6 C646.3,1091.3 646.9,1088.8 647.2,1088.0 C647.5,1087.2 648.0,1085.9 648.4,1085.6 C648.8,1085.3 649.6,1085.3 650.0,1085.6 C650.4,1085.9 651.2,1087.3 651.6,1088.0 C652.0,1088.7 652.8,1090.3 653.2,1091.0 C653.6,1091.7 654.4,1092.2 654.8,1093.0 C655.2,1093.8 656.0,1095.7 656.4,1097.0 C656.8,1098.3 657.5,1101.5 658.0,1103.0 C658.5,1104.5 659.5,1106.7 660.0,1108.0 C660.5,1109.3 661.5,1111.7 662.0,1113.0 C662.5,1114.3 663.5,1116.8 664.0,1118.0 C664.5,1119.2 665.5,1120.5 666.0,1122.0 C666.5,1123.5 667.2,1127.0 667.6,1129.0 C668.0,1131.0 668.8,1134.9 669.2,1137.0 C669.6,1139.1 670.1,1143.3 670.4,1145.0 C670.7,1146.7 671.2,1149.1 671.6,1150.0 C672.0,1150.9 672.8,1151.5 673.2,1151.6 C673.6,1151.7 674.4,1150.2 674.8,1150.4 C675.2,1150.6 675.7,1152.1 676.0,1153.0 C676.3,1153.9 676.9,1156.1 677.2,1157.0 C677.5,1157.9 678.1,1159.4 678.4,1159.4 C678.7,1159.4 679.3,1158.0 679.6,1157.0 C679.9,1156.0 680.5,1153.3 680.8,1152.0 C681.1,1150.7 681.8,1147.7 682.0,1147.0" stroke="#000000" stroke-width="3.9"/>
</g>
<g stroke="#000" stroke-width="2.0" fill="none" stroke-linecap="butt">
<path d="M106.5,651.5 V1210.0"/>
<path d="M682.2,651.5 V1210.0"/>
<path d="M106.5,661.2 H388.9 M398.9,661.2 H682.2"/>
<path d="M106.5,1200.3 H388.9 M398.9,1200.3 H682.2"/>
<path d="M283.0,651.5 V661.2 M283.0,1200.3 V1210.0"/>
<path d="M398.4,651.5 V661.2 M398.4,1200.3 V1210.0"/>
<path d="M493.0,651.5 V661.2 M493.0,1200.3 V1210.0"/>
<path d="M587.6,651.5 V661.2 M587.6,1200.3 V1210.0"/>
<path d="M194.7,656.0 V661.2 M194.7,1200.3 V1205.5"/>
<path d="M371.4,656.0 V661.2 M371.4,1200.3 V1205.5"/>
<path d="M445.7,656.0 V661.2 M445.7,1200.3 V1205.5"/>
<path d="M540.3,656.0 V661.2 M540.3,1200.3 V1205.5"/>
<path d="M634.9,656.0 V661.2 M634.9,1200.3 V1205.5"/>
</g>
<g stroke="#000" stroke-width="1.8" fill="none">
<path d="M383.95,670.5500000000001 L393.85,651.85"/>
<path d="M393.95,670.5500000000001 L403.85,651.85"/>
<path d="M383.95,1209.6499999999999 L393.85,1190.95"/>
<path d="M393.95,1209.6499999999999 L403.85,1190.95"/>
</g>
<text transform="translate(88.8,1234.7) scale(1,1.06)" font-family="'Liberation Sans', Arial, sans-serif" font-weight="bold" stroke="#000" stroke-width="0.3" stroke-linejoin="round" font-size="27.0" text-anchor="middle">4000</text>
<text transform="translate(265.3,1234.7) scale(1,1.06)" font-family="'Liberation Sans', Arial, sans-serif" font-weight="bold" stroke="#000" stroke-width="0.3" stroke-linejoin="round" font-size="27.0" text-anchor="middle">3000</text>
<text transform="translate(380.7,1234.7) scale(1,1.06)" font-family="'Liberation Sans', Arial, sans-serif" font-weight="bold" stroke="#000" stroke-width="0.3" stroke-linejoin="round" font-size="27.0" text-anchor="middle">2000</text>
<text transform="translate(475.3,1234.7) scale(1,1.06)" font-family="'Liberation Sans', Arial, sans-serif" font-weight="bold" stroke="#000" stroke-width="0.3" stroke-linejoin="round" font-size="27.0" text-anchor="middle">1500</text>
<text transform="translate(569.9,1234.7) scale(1,1.06)" font-family="'Liberation Sans', Arial, sans-serif" font-weight="bold" stroke="#000" stroke-width="0.3" stroke-linejoin="round" font-size="27.0" text-anchor="middle">1000</text>
<text transform="translate(664.5,1234.7) scale(1,1.06)" font-family="'Liberation Sans', Arial, sans-serif" font-weight="bold" stroke="#000" stroke-width="0.3" stroke-linejoin="round" font-size="27.0" text-anchor="middle">500</text>
<path d="M575.7,688.5 H624.5" stroke="#ff80ff" stroke-width="3.6" stroke-linecap="round" fill="none"/>
<text transform="translate(630.5,695.6) scale(1,1.05)" font-family="'Liberation Sans', Arial, sans-serif" font-weight="bold" stroke="#000" stroke-width="0.3" stroke-linejoin="round" font-size="21.0">D1</text>
<path d="M575.7,715.8 H624.5" stroke="#959595" stroke-width="3.5" stroke-linecap="round" fill="none"/>
<text transform="translate(630.5,722.6) scale(1,1.05)" font-family="'Liberation Sans', Arial, sans-serif" font-weight="bold" stroke="#000" stroke-width="0.3" stroke-linejoin="round" font-size="21.0">D2</text>
<path d="M575.7,742.8 H624.5" stroke="#000000" stroke-width="3.7" stroke-linecap="round" fill="none"/>
<text transform="translate(630.5,750.0) scale(1,1.05)" font-family="'Liberation Sans', Arial, sans-serif" font-weight="bold" stroke="#000" stroke-width="0.3" stroke-linejoin="round" font-size="21.0">D3</text>
<text transform="translate(83.5,926.0) rotate(-90) scale(1,1.05)" font-family="'Liberation Sans', Arial, sans-serif" font-weight="bold" stroke="#000" stroke-width="0.3" stroke-linejoin="round" font-size="28.0" text-anchor="middle">Transmittance (%)</text>
<text transform="translate(271.3,1294.3) scale(1,1.03)" font-family="'Liberation Sans', Arial, sans-serif" font-weight="bold" stroke="#000" stroke-width="0.3" stroke-linejoin="round" font-size="27.2" xml:space="preserve" style="white-space:pre">Wavelenght  (cm</text>
<text transform="translate(485.8,1282.5) scale(1,1.03)" font-family="'Liberation Sans', Arial, sans-serif" font-weight="bold" stroke="#000" stroke-width="0.3" stroke-linejoin="round" font-size="25.8">-1</text>
<text transform="translate(509.6,1294.3) scale(1,1.03)" font-family="'Liberation Sans', Arial, sans-serif" font-weight="bold" stroke="#000" stroke-width="0.3" stroke-linejoin="round" font-size="27.2">)</text>
<rect x="0" y="20.6" width="71.1" height="84.8" fill="#ffc000"/>
<text transform="translate(33.7,80.6) scale(0.92,1)" font-family="'Liberation Sans', Arial, sans-serif" font-weight="bold" font-size="47" fill="#c12cb6" text-anchor="middle">a</text>
<rect x="10" y="671.4" width="70.9" height="83.6" fill="#c00000"/>
<text transform="translate(44.9,730.9) scale(0.915,1)" font-family="'Liberation Sans', Arial, sans-serif" font-weight="bold" font-size="50.1" fill="#ffccff" text-anchor="middle">b</text>
</svg>
</body></html>
